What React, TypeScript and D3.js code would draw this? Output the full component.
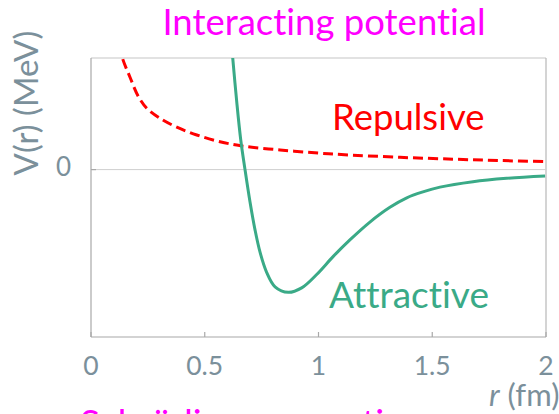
import React from "react";
import * as d3 from "d3";

// r in fm, V in arbitrary MeV units (only 0 labelled)
const repulsiveR = [0.125, 0.138, 0.171, 0.208, 0.245, 0.303, 0.377, 0.465, 0.567, 0.669, 0.831, 1.0, 1.1, 1.358, 1.6, 1.8, 1.999];
const repulsiveV = [1.12, 1.0, 0.83, 0.656, 0.55, 0.46, 0.38, 0.31, 0.25, 0.21, 0.176, 0.148, 0.135, 0.11, 0.093, 0.081, 0.071];

const attractiveR = [0.61, 0.623, 0.64, 0.658, 0.677, 0.699, 0.721, 0.743, 0.772, 0.809, 0.867, 0.926, 0.992, 1.064, 1.138, 1.226, 1.314, 1.388, 1.459, 1.534, 1.679, 1.827, 1.996];
const attractiveV = [1.3, 1.0, 0.62, 0.27, 0.0, -0.29, -0.54, -0.74, -0.92, -1.05, -1.1, -1.06, -0.94, -0.78, -0.63, -0.47, -0.338, -0.253, -0.2, -0.157, -0.108, -0.078, -0.057];

const xTicks = [0, 0.5, 1, 1.5, 2];
const xTickLabels = ["0", "0.5", "1", "1.5", "2"];
const yTicks = [0];
const yTickLabels = ["0"];

const W = 559;
const H = 414;
const left = 91, right = 546, top = 58, bottom = 337;
const axisGray = "#7b909b";
const green = "#3aaa87";
const red = "#ff0000";
const magenta = "#ff00ff";
const font = "Lato, 'Open Sans', sans-serif";

export default function App() {
  const x = d3.scaleLinear().domain([0, 2]).range([left, right]);
  const y = d3.scaleLinear().domain([-1.5, 1]).range([bottom, top]);
  const line = d3
    .line<[number, number]>()
    .x((d) => x(d[0]))
    .y((d) => y(d[1]))
    .curve(d3.curveCatmullRom.alpha(0.5));
  const rep = line(repulsiveR.map((r, i) => [r, repulsiveV[i]] as [number, number])) || "";
  const att = line(attractiveR.map((r, i) => [r, attractiveV[i]] as [number, number])) || "";

  return (
    <svg
      width={W}
      height={H}
      style={{ position: "absolute", left: 0, top: 0, background: "#fff", fontVariantLigatures: "none" }}
      fontFamily={font}
    >
      <defs>
        <clipPath id="plot">
          <rect x={left} y={top} width={right - left} height={bottom - top} />
        </clipPath>
      </defs>
      <rect x={0} y={0} width={W} height={H} fill="#fff" />
      {/* box */}
      <line x1={left} y1={top} x2={right} y2={top} stroke="#c6c6c6" strokeWidth={1.2} />
      <line x1={right} y1={top} x2={right} y2={bottom} stroke="#b8b8b8" strokeWidth={1.2} />
      <line x1={left} y1={top} x2={left} y2={bottom} stroke="#a8a8a8" strokeWidth={1.2} />
      <line x1={left} y1={bottom} x2={right} y2={bottom} stroke="#a8a8a8" strokeWidth={1.2} />
      {/* zero line */}
      {yTicks.map((t, i) => (
        <g key={"y" + i}>
          <line x1={left} x2={right} y1={y(t)} y2={y(t)} stroke="#cfcfcf" strokeWidth={1} />
          <line x1={left} x2={left + 5} y1={y(t)} y2={y(t)} stroke="#a8a8a8" strokeWidth={1.2} />
          <text x={left - 20} y={y(t) + 6.5} fontSize={26} fill={axisGray} textAnchor="end">
            {yTickLabels[i]}
          </text>
        </g>
      ))}
      {xTicks.map((t, i) => (
        <g key={"x" + i}>
          <line x1={x(t)} x2={x(t)} y1={bottom} y2={bottom - 5} stroke="#a8a8a8" strokeWidth={1.2} />
          <text x={x(t)} y={375} fontSize={26.5} fill={axisGray} textAnchor="middle">
            {xTickLabels[i]}
          </text>
        </g>
      ))}
      <g clipPath="url(#plot)">
        <path d={rep} fill="none" stroke={red} strokeWidth={3} strokeDasharray="10,5" />
        <path d={att} fill="none" stroke={green} strokeWidth={3} />
      </g>
      <text x={324} y={35} fontSize={36.5} fill={magenta} textAnchor="middle">
        Interacting potential
      </text>
      <text
        transform="translate(38,103) rotate(-90)"
        fontSize={33}
        fill={axisGray}
        textAnchor="middle"
      >
        V(r) (MeV)
      </text>
      <text x={332} y={130} fontSize={36.5} fill={red}>
        Repulsive
      </text>
      <text x={329} y={308} fontSize={37} fill={green}>
        Attractive
      </text>
      <text x={489} y={406} fontSize={31} fill={axisGray}>
        <tspan fontStyle="italic">r</tspan> (fm)
      </text>
      <text x={80} y={436} fontSize={37} fill={magenta}>
        Schrödinger equation
      </text>
    </svg>
  );
}
